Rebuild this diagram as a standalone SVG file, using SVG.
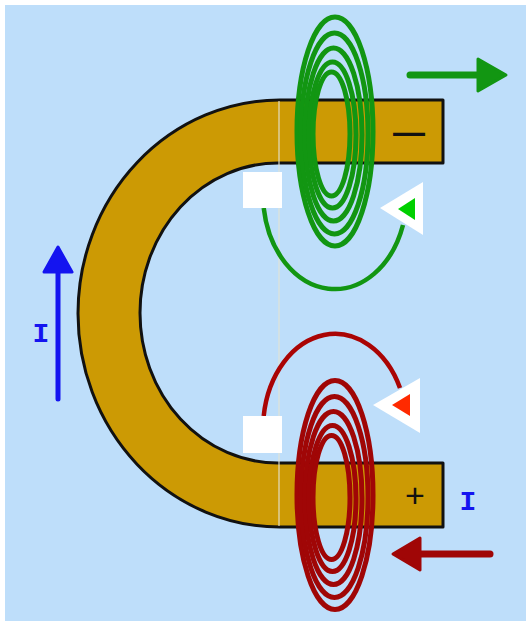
<svg xmlns="http://www.w3.org/2000/svg" width="526" height="621" viewBox="0 0 526 621">
  <style>
    .magnet { fill: #cc9a04; stroke: #111; stroke-width: 3; stroke-linejoin: round; }
    .coil-g { fill: none; stroke: #129612; stroke-width: 5; }
    .coil-r { fill: none; stroke: #a00606; stroke-width: 5; }
    .pad { fill: #ffffff; }
    .sign { font-family: "Liberation Sans", Arial, sans-serif; fill: #111; text-anchor: middle; }
    .cur { font-family: "Liberation Mono", "Courier New", monospace; font-weight: bold; fill: #1414f0; text-anchor: middle; }
  </style>

  <defs>
    <!-- one winding: five nested turns, bunched on the left side -->
    <g id="turns">
      <ellipse cx="335" cy="131.5" rx="38" ry="114.5"/>
      <ellipse cx="334.5" cy="133.5" rx="33.5" ry="100.5"/>
      <ellipse cx="333.5" cy="134.5" rx="28.5" ry="86.5"/>
      <ellipse cx="332.5" cy="135" rx="23.5" ry="73"/>
      <ellipse cx="331.5" cy="134" rx="18.5" ry="62"/>
    </g>
  </defs>

  <!-- backdrop -->
  <rect x="0" y="0" width="526" height="621" fill="#ffffff"/>
  <rect x="5" y="5" width="521" height="616" fill="#bedefa"/>

  <!-- horseshoe magnet -->
  <g id="magnet">
    <path class="magnet" d="M443,100 L280,100 A202,213.5 0 0 0 280,527 L443,527 L443,463 L278,463 A138,150 0 0 1 278,163 L443,163 Z"/>
    <line x1="279" y1="101" x2="279" y2="526" stroke="#e4e4d4" stroke-width="2" opacity="0.55"/>
    <text class="sign" x="409" y="143" font-size="32" font-weight="bold">—</text>
    <text class="sign" x="415" y="507" font-size="34">+</text>
  </g>

  <!-- field loop at the north pole -->
  <g id="loop-top">
    <path d="M263.7,208 A72,95 0 0 0 403,225" fill="none" stroke="#129612" stroke-width="4.5"/>
    <polygon points="380,208 423,182 423,235" fill="#ffffff"/>
    <polygon points="398,209 415,198 415,220" fill="#00d000"/>
  </g>

  <!-- field loop at the south pole -->
  <g id="loop-bottom">
    <path d="M263.7,416 A72,95 0 0 1 400,388" fill="none" stroke="#aa0404" stroke-width="4.5"/>
    <polygon points="373,405 420,378 420,433" fill="#ffffff"/>
    <polygon points="392,405 410,394 410,416" fill="#ff2a00"/>
  </g>

  <!-- winding around the upper arm -->
  <g id="coil-top" class="coil-g">
    <use href="#turns"/>
  </g>

  <!-- winding around the lower arm -->
  <g id="coil-bottom" class="coil-r">
    <use href="#turns" transform="translate(0,363.5)"/>
  </g>

  <!-- terminal pads -->
  <g id="pad-top"><rect class="pad" x="243" y="172" width="39" height="36"/></g>
  <g id="pad-bottom"><rect class="pad" x="243" y="416" width="39" height="37"/></g>

  <!-- direction arrows -->
  <g id="arrows">
    <line x1="410" y1="75" x2="480" y2="75" stroke="#129612" stroke-width="7" stroke-linecap="round"/>
    <polygon points="478,59 506,75 478,91" fill="#129612" stroke="#129612" stroke-width="3" stroke-linejoin="round"/>
    <line x1="490" y1="554" x2="418" y2="554" stroke="#a00606" stroke-width="7" stroke-linecap="round"/>
    <polygon points="420,538 393,554 420,570" fill="#a00606" stroke="#a00606" stroke-width="3" stroke-linejoin="round"/>
    <line x1="58" y1="399" x2="58" y2="268" stroke="#1414f0" stroke-width="5" stroke-linecap="round"/>
    <polygon points="44,272 58,247 72,272" fill="#1414f0" stroke="#1414f0" stroke-width="3" stroke-linejoin="round"/>
  </g>

  <!-- current labels -->
  <g id="label-left"><text class="cur" x="41" y="342" font-size="28">I</text></g>
  <g id="label-right"><text class="cur" x="468" y="510" font-size="28">I</text></g>
</svg>
